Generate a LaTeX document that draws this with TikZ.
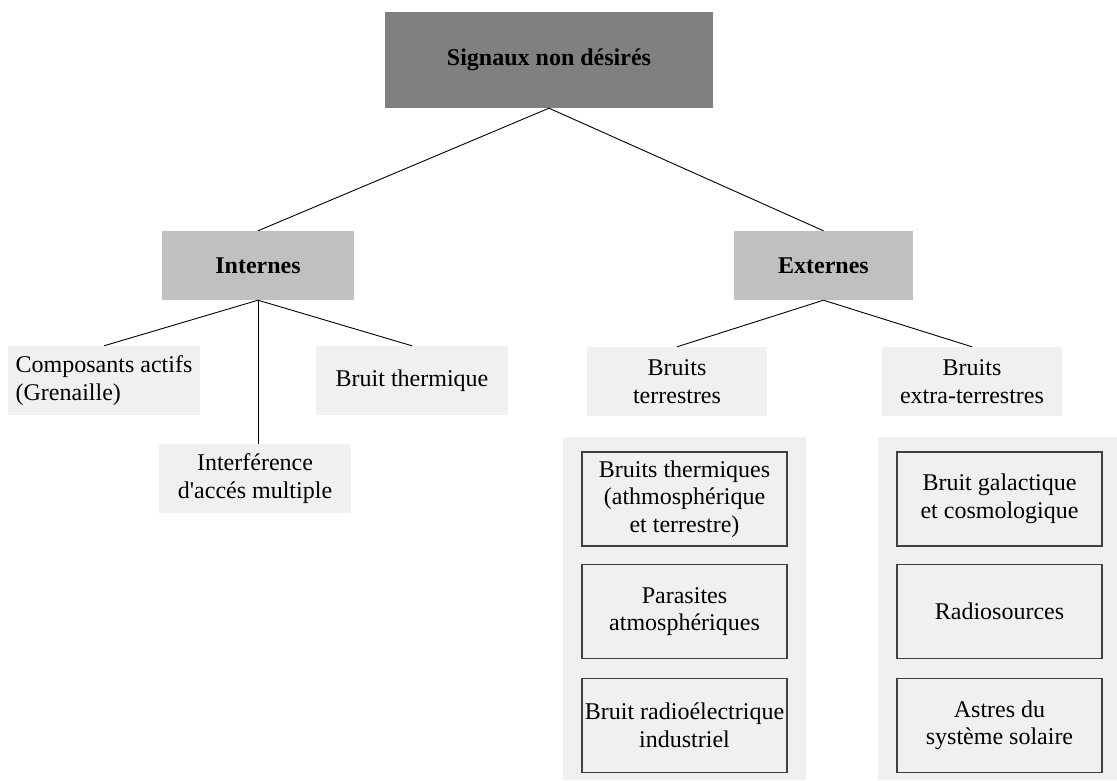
\documentclass[tikz,border=0pt]{standalone}
\usepackage{fontspec}
\setmainfont{Liberation Serif}
\tikzset{>=stealth}
\definecolor{rootgray}{HTML}{808080}
\definecolor{catgray}{HTML}{C0C0C0}
\definecolor{leafgray}{HTML}{F0F0F0}
\definecolor{bordgray}{HTML}{404040}

\begin{document}
\begin{tikzpicture}[x=1pt, y=-1pt,
    every node/.style={font=\fontsize{24}{27.5}\selectfont, align=center, inner sep=0pt},
    racine/.style={fill=rootgray, minimum width=328pt, minimum height=96pt, font=\fontsize{24}{27.5}\selectfont\bfseries},
    categorie/.style={fill=catgray, minimum width=192pt, minimum height=69pt, font=\fontsize{24}{27.5}\selectfont\bfseries},
    feuille/.style={fill=leafgray, minimum width=192pt, minimum height=69pt},
    encadre/.style={draw=bordgray, line width=1.3pt, fill=leafgray, minimum width=205pt, minimum height=94pt},
    lien/.style={line width=0.9pt}]
    \useasboundingbox (0,0) rectangle (1117,780);
    \fill[leafgray] (563,437) rectangle (806,780);
    \fill[leafgray] (878,437) rectangle (1117,780);

    \node[racine] (sig) at (549,60) {Signaux non désirés};
    \node[categorie] (int) at (258,265.5) {Internes};
    \node[categorie, minimum width=179pt] (ext) at (823.5,265.5) {Externes};

    \node[feuille, align=left] (comp) at (104,380.5) {Composants actifs\\(Grenaille)};
    \node[feuille] (therm) at (412,380.5) {Bruit thermique};
    \node[feuille] (interf) at (255,478.5) {Interférence\\d\textquotesingle accés multiple};
    \node[feuille, minimum width=180pt] (terr) at (677,381.5) {Bruits\\terrestres};
    \node[feuille, minimum width=180pt] (extra) at (972,381.5) {Bruits\\extra-terrestres};

    \node[encadre] (bth) at (684.5,499) {Bruits thermiques\\(athmosphérique\\et terrestre)};
    \node[encadre] (par) at (684.5,611.5) {Parasites\\atmosphériques};
    \node[encadre] (rad) at (684.5,725.5) {Bruit radioélectrique\\industriel};
    \node[encadre] (gal) at (999.5,499) {Bruit galactique\\et cosmologique};
    \node[encadre] (rso) at (999.5,611.5) {Radiosources};
    \node[encadre] (ast) at (999.5,725.5) {Astres du\\système solaire};

    \draw[lien] (sig.south) -- (int.north);
    \draw[lien] (sig.south) -- (ext.north);
    \draw[lien] (int.south) -- (comp.north);
    \draw[lien] (int.south) -- (therm.north);
    \draw[lien] (int.south) -- (int.south |- interf.north);
    \draw[lien] (ext.south) -- (terr.north);
    \draw[lien] (ext.south) -- (extra.north);
\end{tikzpicture}
\end{document}
